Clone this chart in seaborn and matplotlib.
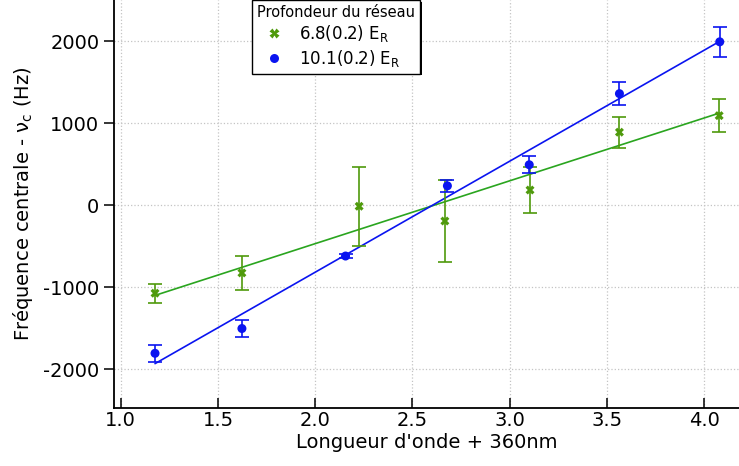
import numpy as np
import pandas as pd
import matplotlib
matplotlib.use("Agg")
import matplotlib.pyplot as plt
import matplotlib.patheffects as pe
import seaborn as sns

# longueur d'onde (+360 nm)
x_vals = [1.176, 1.623, 2.226, 2.667, 3.105, 3.565, 4.078]
x_blue = [1.176, 1.623, 2.156, 2.680, 3.101, 3.565, 4.081]

# 6.8(0.2) E_R
green_y = [-1075, -828, -15, -195, 183, 888, 1090]
green_err = [118, 208, 480, 505, 285, 190, 198]
# 10.1(0.2) E_R
blue_y = [-1808, -1506, -622, 234, 491, 1358, 1990]
blue_err = [105, 102, 22, 75, 105, 138, 180]

# droites d'ajustement (extrémités)
fit_x = [1.176, 4.08]
fit_green = [-1102, 1122]
fit_blue = [-1934, 1995]

lab_green = "6.8(0.2) E$_\\mathregular{R}$"
lab_blue = "10.1(0.2) E$_\\mathregular{R}$"

c_green = "#4f9a0c"
c_gline = "#2aa51f"
c_blue = "#0a14f0"

sns.set_style("ticks")
plt.rcParams["font.family"] = ["DejaVu Sans"]
plt.rcParams["axes.unicode_minus"] = False
plt.rcParams["text.color"] = "black"
plt.rcParams["axes.labelcolor"] = "black"
plt.rcParams["xtick.color"] = "black"
plt.rcParams["ytick.color"] = "black"
plt.rcParams["axes.edgecolor"] = "black"

df = pd.DataFrame({
    "x": x_vals + x_blue,
    "y": green_y + blue_y,
    "err": green_err + blue_err,
    "serie": [lab_green] * len(x_vals) + [lab_blue] * len(x_blue),
})
fits = pd.DataFrame({
    "x": fit_x + fit_x,
    "y": fit_green + fit_blue,
    "serie": [lab_green] * 2 + [lab_blue] * 2,
})
palette = {lab_green: c_green, lab_blue: c_blue}

fig = plt.figure(figsize=(7.39, 4.66), dpi=100)
ax = fig.add_axes([114 / 739, 58 / 466, 625 / 739, 408 / 466])

# droites d'ajustement
sns.lineplot(data=fits, x="x", y="y", hue="serie",
             palette={lab_green: c_gline, lab_blue: c_blue},
             lw=1.2, legend=False, ax=ax)

# barres d'erreur
for s, sub in df.groupby("serie", sort=False):
    ax.errorbar(sub["x"], sub["y"], yerr=sub["err"], fmt="none",
                ecolor=palette[s], elinewidth=1.2, capsize=5, capthick=1.2)

sns.scatterplot(data=df, x="x", y="y", hue="serie", style="serie",
                markers={lab_green: "X", lab_blue: "o"},
                palette=palette, s=42, edgecolor="none", ax=ax, zorder=5)

ax.set_xlim(0.965, 4.18)
ax.set_ylim(-2475, 2500)
ax.set_xticks([1.0, 1.5, 2.0, 2.5, 3.0, 3.5, 4.0])
ax.set_yticks([-2000, -1000, 0, 1000, 2000])
ax.set_xticklabels(["1.0", "1.5", "2.0", "2.5", "3.0", "3.5", "4.0"])
ax.grid(True, ls=":", color="#c4c4c4", lw=0.9)
ax.tick_params(axis="y", direction="out", length=7, width=1.1, labelsize=14)
ax.tick_params(axis="x", direction="in", length=7, width=1.1, labelsize=14, pad=2)
for sp in ["top", "right"]:
    ax.spines[sp].set_visible(False)
for sp in ["left", "bottom"]:
    ax.spines[sp].set_linewidth(1.3)

ax.set_xlabel("Longueur d'onde + 360nm", fontsize=14, labelpad=2)
ax.set_ylabel("Fréquence centrale - ν$_\\mathregular{c}$ (Hz)", fontsize=14, labelpad=6)

handles, labels = ax.get_legend_handles_labels()
leg = ax.legend(handles, labels, title="Profondeur du réseau", loc="upper left",
                bbox_to_anchor=(0.221, 1.0), borderaxespad=0, fontsize=12,
                title_fontsize=10.5, frameon=True, fancybox=False,
                handletextpad=0.5, borderpad=0.3, labelspacing=0.2)
leg._legend_box.align = "left"
frame = leg.get_frame()
frame.set_edgecolor("black")
frame.set_linewidth(1.0)
frame.set_alpha(1)
frame.set_path_effects([pe.SimplePatchShadow(offset=(1.2, -1.2), shadow_rgbFace="black", alpha=1),
                        pe.Normal()])

fig.savefig("out.png", dpi=100)
